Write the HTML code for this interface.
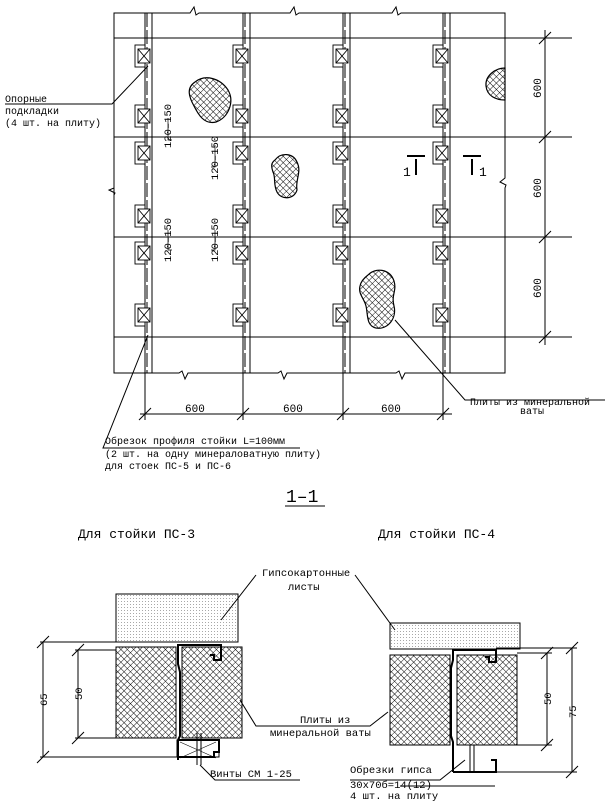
<!DOCTYPE html>
<html><head><meta charset="utf-8"><style>
html,body{margin:0;padding:0;background:#fff}
svg{display:block}
text{font-family:"Liberation Mono","DejaVu Sans Mono",monospace;fill:#000}
</style></head><body>
<svg width="605" height="801" viewBox="0 0 605 801" xmlns="http://www.w3.org/2000/svg">
<defs>
<pattern id="h" width="4.5" height="4.5" patternUnits="userSpaceOnUse" patternTransform="rotate(45)">
<path d="M0 0H4.5M0 0V4.5" stroke="#000" stroke-width="0.9"/>
</pattern>
<pattern id="d" width="3" height="3" patternUnits="userSpaceOnUse">
<rect x="1" y="1" width="0.8" height="0.8" fill="#777"/>
</pattern>
</defs>
<g stroke="#000" fill="none" stroke-width="1">
<path d="M114 13H190l4-6 2 8 3-2H290l4-6 2 8 3-2H392l4-6 2 8 3-2H505V178l-5 4 6 3-1 3V373H405l-3 6-3-8-3 2H287l-3 6-3-8-3 2H188l-3 6-3-8-3 2H114V188l-5 2 6 3-1 2Z"/>
<path d="M114 38H572M114 137H572M114 237H572M114 337H572"/>
<path d="M145 13V420M152 13V373M243 13V420M250 13V373M343 13V420M350 13V373M443 13V420M450 13V373"/>
<path d="M147 13V373M245 13V373M345 13V373M445 13V373" stroke-dasharray="14 3"/>
</g>
<g stroke="#000" fill="#fff" stroke-width="0.9">
<g id="pads">
<rect x="135" y="45" width="10" height="22"/><rect x="138" y="49" width="12" height="14"/><path d="M138 49l12 14M150 49l-12 14"/>
<rect x="135" y="105" width="10" height="22"/><rect x="138" y="109" width="12" height="14"/><path d="M138 109l12 14M150 109l-12 14"/>
<rect x="135" y="142" width="10" height="22"/><rect x="138" y="146" width="12" height="14"/><path d="M138 146l12 14M150 146l-12 14"/>
<rect x="135" y="205" width="10" height="22"/><rect x="138" y="209" width="12" height="14"/><path d="M138 209l12 14M150 209l-12 14"/>
<rect x="135" y="242" width="10" height="22"/><rect x="138" y="246" width="12" height="14"/><path d="M138 246l12 14M150 246l-12 14"/>
<rect x="135" y="304" width="10" height="22"/><rect x="138" y="308" width="12" height="14"/><path d="M138 308l12 14M150 308l-12 14"/>
</g>
<use href="#pads" x="98"/><use href="#pads" x="198"/><use href="#pads" x="298"/>
</g>
<g stroke="#000" stroke-width="1.2" fill="url(#h)">
<path d="M195 82c10-8 25-4 33 8 7 12 0 28-12 32-12 3-18-8-22-16-5-9-8-18 1-24z"/>
<path d="M275 160c6-8 18-7 22 2 5 10-2 18 0 28-3 10-16 10-20 2-4-8-1-14-4-20-2-6-2-9 2-12z"/>
<path d="M368 275c8-8 22-6 26 6 3 10-3 14 0 25 3 12-6 24-18 22-10-2-8-14-10-22-2-8-8-12-6-20 1-5 4-8 8-11z"/>
<path d="M505 68c-10 0-20 8-19 18 1 10 10 14 19 14z"/>
</g>
<g stroke="#000" stroke-width="1" fill="none">
<path d="M545 30V345M539 44l12-12M539 143l12-12M539 243l12-12M539 343l12-12"/>
<path d="M140 414H452M139 420l12-12M237 420l12-12M337 420l12-12M437 420l12-12"/>
<path d="M395 320L465 400H605M5 104H112L148 66M300 448H103L148 335"/>
<path d="M168 118v22h4M215 145v22h-4M168 230v20h4M215 230v20h-4" stroke-width="0.7"/>
<path d="M407 156H425M416 175V159M463 156H481M472 175V159" stroke-width="2"/>
<path d="M285 506H325"/>
</g>
<g font-size="11">
<text transform="translate(541,98) rotate(-90)">600</text>
<text transform="translate(541,198) rotate(-90)">600</text>
<text transform="translate(541,298) rotate(-90)">600</text>
<text x="185" y="412">600</text><text x="283" y="412">600</text><text x="381" y="412">600</text>
<text transform="translate(171,148) rotate(-90)" font-size="10.5">120–150</text>
<text transform="translate(218,180) rotate(-90)" font-size="10.5">120–150</text>
<text transform="translate(171,262) rotate(-90)" font-size="10.5">120–150</text>
<text transform="translate(218,262) rotate(-90)" font-size="10.5">120–150</text>
<text x="5" y="102" font-size="10">Опорные</text>
<text x="5" y="114" font-size="10">подкладки</text>
<text x="5" y="126" font-size="10">(4 шт. на плиту)</text>
<text x="470" y="405" font-size="10">Плиты из минеральной</text>
<text x="520" y="414" font-size="10">ваты</text>
<text x="105" y="444" font-size="10">Обрезок профиля стойки L=100мм</text>
<text x="105" y="457" font-size="10">(2 шт. на одну минераловатную плиту)</text>
<text x="105" y="469" font-size="10">для стоек ПС-5 и ПС-6</text>
<text x="403" y="176" font-family="Liberation Serif" font-size="13">1</text>
<text x="479" y="176" font-family="Liberation Serif" font-size="13">1</text>
<text x="286" y="502" font-family="Liberation Serif" font-size="18">1–1</text>
<text x="78" y="538" font-size="13">Для стойки ПС-3</text>
<text x="378" y="538" font-size="13">Для стойки ПС-4</text>
</g>
<g stroke="#000" stroke-width="1" fill="none">
<rect x="116" y="594" width="122" height="48" fill="url(#d)"/>
<rect x="116" y="647" width="60" height="91" fill="url(#h)"/>
<rect x="182" y="647" width="60" height="91" fill="url(#h)"/>
<path d="M40 642H116M75 650H116M75 738H116M40 757H180" />
<path d="M43 642V757M78 650V738M37 648l12-12M37 763l12-12M72 656l12-12M72 744l12-12"/>
<rect x="177" y="740" width="42" height="17" fill="#fff"/>
<path d="M178 760V740l2-4V672l-2-8V645H221V660H214V655h-4" stroke-width="2"/>
<path d="M178 740H219V752h-5v5H178" stroke-width="2"/>
<path d="M180 742l36 16M216 742l-36 16" stroke-width="0.6"/>
<path d="M197 733V765M201 733V765" stroke-width="1"/>
<path d="M200 765L215 780H300M256 575L221 620M355 575L395 630M240 700L256 726H370L388 712"/>
<path d="M400 786H495"/>
<rect x="390" y="623" width="130" height="26" fill="url(#d)"/>
<rect x="390" y="655" width="60" height="90" fill="url(#h)"/>
<rect x="457" y="655" width="60" height="90" fill="url(#h)"/>
<path d="M453 772V742l-2-6V668l2-8V650H496V662H489V657h-4" stroke-width="2"/>
<path d="M453 772H496V760h-5" stroke-width="2"/>
<path d="M470 745V772M474 745V772" />
<path d="M517 653H552M517 745H552M496 648H577M496 772H577M547 653V745M572 648V772M541 659l12-12M541 751l12-12M566 654l12-12M566 778l12-12"/>
<path d="M465 760L440 780H350"/>
</g>
<g font-size="10.5">
<text transform="translate(47,706) rotate(-90)">65</text>
<text transform="translate(82,700) rotate(-90)">50</text>
<text transform="translate(551,705) rotate(-90)">50</text>
<text transform="translate(576,718) rotate(-90)">75</text>
<text x="262" y="576">Гипсокартонные</text>
<text x="288" y="590">листы</text>
<text x="300" y="723">Плиты из</text>
<text x="270" y="736">минеральной ваты</text>
<text x="210" y="777">Винты СМ 1-25</text>
<text x="350" y="773">Обрезки гипса</text>
<text x="350" y="788">30х70б=14(12)</text>
<text x="350" y="799">4 шт. на плиту</text>
</g>
</svg>
</body></html>
